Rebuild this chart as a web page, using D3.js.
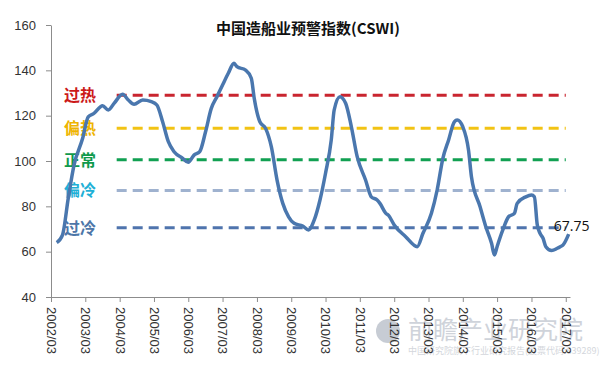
<!DOCTYPE html>
<html lang="zh">
<head>
	<meta charset="UTF-8"/>
	<title>中国造船业预警指数(CSWI)</title>
	<style type="text/css">
		body {
			margin: 0;
			background: #ffffff;
		}
		svg {
			display: block;
			font-family: "Liberation Sans", Arial, sans-serif;
		}
		.axis path, .axis line {
			stroke: #8c8c8c;
		}
		.axis text {
			fill: #333333;
			font-size: 13px;
		}
		.chart_title {
			font-family: "Noto Sans CJK SC", sans-serif;
			font-size: 15px;
			font-weight: 700;
			fill: #111111;
		}
		.level_label {
			font-family: "Noto Sans CJK SC", sans-serif;
			font-size: 16px;
			font-weight: 700;
		}
	</style>
</head>
<body>
	<svg width="600" height="372"></svg>
<script src="https://d3js.org/d3.v7.min.js"></script>
<script type='text/javascript'>
	// CSWI monthly readings
	const months = ["2002/05","2002/07","2002/09","2002/11","2003/02","2003/04","2003/06","2003/09","2003/11",
		"2004/01","2004/04","2004/06","2004/08","2004/11","2005/02","2005/04","2005/06","2005/08","2005/10",
		"2006/01","2006/03","2006/05","2006/07","2006/09","2006/11","2007/01","2007/03","2007/05","2007/07",
		"2007/08","2007/11","2008/01","2008/02","2008/04","2008/06","2008/08","2008/10","2008/12","2009/02",
		"2009/04","2009/07","2009/09","2009/11","2010/01","2010/03","2010/05","2010/06","2010/08","2010/10",
		"2010/12","2011/02","2011/05","2011/07","2011/09","2011/10","2011/12","2012/01","2012/03","2012/07",
		"2012/11","2013/01","2013/04","2013/06","2013/08","2013/10","2013/12","2014/01","2014/03","2014/05",
		"2014/06","2014/09","2014/11","2015/01","2015/02","2015/03","2015/05","2015/07","2015/09","2015/10",
		"2016/01","2016/03","2016/04","2016/05","2016/06","2016/07","2016/08","2016/10","2016/12","2017/01",
		"2017/02","2017/04"];
	const cswi = [64, 67.3, 83.7, 98.2, 110, 119.5, 121, 124.4, 122.5,
		125.4, 129.4, 126.9, 125, 126.9, 126.2, 124.7, 117.3, 108.5, 104.1,
		101.2, 99.4, 102.6, 104.1, 112.9, 123.2, 128.4, 133.5, 138.7, 143.1,
		141.6, 140.1, 136.5, 127.7, 117.3, 114.4, 106.3, 91.6, 81.3, 75.4,
		72.5, 71.3, 69.6, 74, 82.8, 94.6, 109.3, 122.5, 128.4, 125.5,
		115.1, 101.9, 91.6, 84.2, 82.8, 81.3, 77, 76, 71.8, 66.6,
		62.2, 68.1, 76.9, 87.2, 101.2, 109.3, 117.3, 118.1, 115.1, 104.8,
		93.1, 79.8, 71, 63.7, 58.5, 62.2, 69.6, 75.4, 76.9, 81.3,
		84.2, 85, 84.2, 72, 68, 66, 62.2, 60.5, 61.5, 62.2,
		63, 67.75];

	// warning levels
	const levelNames = ["过热", "偏热", "正常", "偏冷", "过冷"];
	const levelValues = [129, 114.5, 100.5, 87, 70.5];
	const levelColors = ["#c9252f", "#f2c314", "#11a052", "#9fb2cf", "#4f74ad"];
	const labelColors = ["#cc1a1a", "#eeb400", "#109a4c", "#1fb0d6", "#4d76a8"];
	const levelStart = "2004/03";
	const levelEnd = "2017/03";

	const xTicks = ["2002/03","2003/03","2004/03","2005/03","2006/03","2007/03","2008/03","2009/03",
		"2010/03","2011/03","2012/03","2013/03","2014/03","2015/03","2016/03","2017/03"];
	const yTicks = [40, 60, 80, 100, 120, 140, 160];

	const parse = d3.timeParse("%Y/%m");
	const data = months.map((m, i) => ({ date: parse(m), value: cswi[i] }));

	const svg = d3.select('svg');

	const plotLeft = 51, plotRight = 570, plotTop = 25, plotBottom = 297;

	const xScale = d3.scaleTime()
		.domain([parse("2002/03"), new Date(2017, 3, 15)])
		.range([plotLeft, plotRight]);

	const yScale = d3.scaleLinear()
		.domain([40, 160])
		.range([plotBottom, plotTop]);

	// watermark
	const wm = svg.append('g').attr('opacity', 0.55);
	wm.append('circle')
		.attr('cx', 388).attr('cy', 331).attr('r', 12)
		.attr('fill', '#9aa3b2');
	wm.append('text')
		.attr('x', 408).attr('y', 339)
		.style('font-family', '"Noto Sans CJK SC", sans-serif')
		.style('font-size', '25px')
		.style('fill', '#a9b0bd')
		.text('前瞻产业研究院');
	wm.append('text')
		.attr('x', 408).attr('y', 354)
		.style('font-family', '"Noto Sans CJK SC", sans-serif')
		.style('font-size', '9px')
		.style('fill', '#b0b6c0')
		.text('中国研究院旗下行业研究报告(股票代码:839289)');

	// Y axis
	svg.append('g')
		.attr('class', 'axis')
		.attr('transform', `translate(${plotLeft}, 0)`)
		.call(d3.axisLeft(yScale).tickValues(yTicks).tickSize(5).tickPadding(10).tickSizeOuter(0));

	// X axis
	svg.append('g')
		.attr('class', 'axis')
		.attr('transform', `translate(0, ${plotBottom})`)
		.call(d3.axisBottom(xScale)
			.tickValues(xTicks.map(parse))
			.tickSize(5)
			.tickSizeOuter(0)
			.tickFormat(d3.timeFormat("%Y/%m")))
		.selectAll("text")
		.attr("x", 10)
		.attr("y", 0)
		.attr("dy", "0.35em")
		.attr("transform", "rotate(90)")
		.style("text-anchor", "start")
		.style("font-size", "13px");

	// level lines
	levelValues.forEach((v, i) => {
		svg.append('line')
			.attr('x1', xScale(parse(levelStart)) - 3)
			.attr('x2', xScale(parse(levelEnd)))
			.attr('y1', yScale(v))
			.attr('y2', yScale(v))
			.attr('stroke', levelColors[i])
			.attr('stroke-width', 3)
			.attr('stroke-dasharray', '10,6');

		svg.append('text')
			.attr('class', 'level_label')
			.attr('x', 96)
			.attr('y', yScale(v))
			.attr('dy', '0.36em')
			.attr('text-anchor', 'end')
			.style('fill', labelColors[i])
			.text(levelNames[i]);
	});

	// CSWI line
	const line = d3.line()
		.x(d => xScale(d.date))
		.y(d => yScale(d.value))
		.curve(d3.curveMonotoneX);

	svg.append('path')
		.datum(data)
		.attr('d', line)
		.attr('fill', 'none')
		.attr('stroke', '#4a77ae')
		.attr('stroke-width', 3.5)
		.attr('stroke-linejoin', 'round');

	// last value label
	const last = data[data.length - 1];
	svg.append('text')
		.attr('x', xScale(last.date) + 3)
		.attr('y', yScale(last.value) - 3)
		.attr('text-anchor', 'middle')
		.style('font-family', '"Open Sans", sans-serif')
		.style('font-size', '14px')
		.style('fill', '#111')
		.text(last.value);

	// title
	svg.append('text')
		.attr('class', 'chart_title')
		.attr('x', 308)
		.attr('y', 34)
		.attr('text-anchor', 'middle')
		.text('中国造船业预警指数(CSWI)');
</script>
</body>
</html>
